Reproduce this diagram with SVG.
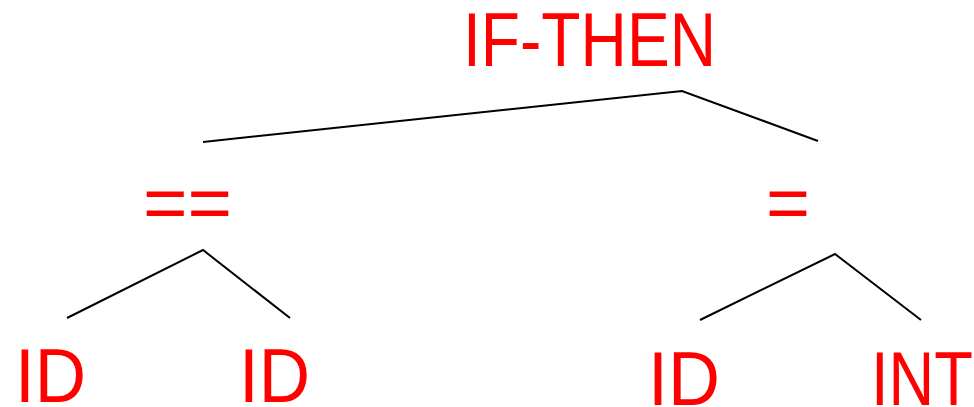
<svg xmlns="http://www.w3.org/2000/svg" width="974" height="407" viewBox="0 0 974 407">
<style>
.t{font-family:"Liberation Sans","DejaVu Sans",sans-serif;font-size:76px;fill:#ff0000}
.e{stroke:#000;stroke-width:2;fill:none}
</style>
<rect width="974" height="407" fill="#fff"/>
<g id="connectors">
<polyline class="e" points="203,142 682,91 818,141"/>
<polyline class="e" points="67,318 203,250 290,318"/>
<polyline class="e" points="700,320 835,254 921,320"/>
</g>
<g id="n-ifthen"><text class="t" x="463" y="66" textLength="253" lengthAdjust="spacingAndGlyphs">IF-THEN</text></g>
<g id="n-eqeq"><text class="t" x="143" y="229" textLength="89" lengthAdjust="spacingAndGlyphs">==</text></g>
<g id="n-assign"><text class="t" x="766" y="229" textLength="44" lengthAdjust="spacingAndGlyphs">=</text></g>
<g id="n-id1"><text class="t" x="15" y="402" textLength="71" lengthAdjust="spacingAndGlyphs">ID</text></g>
<g id="n-id2"><text class="t" x="239" y="402" textLength="71" lengthAdjust="spacingAndGlyphs">ID</text></g>
<g id="n-id3"><text class="t" x="648" y="405" textLength="72" lengthAdjust="spacingAndGlyphs">ID</text></g>
<g id="n-int"><text class="t" x="871" y="405" textLength="102" lengthAdjust="spacingAndGlyphs">INT</text></g>
</svg>
